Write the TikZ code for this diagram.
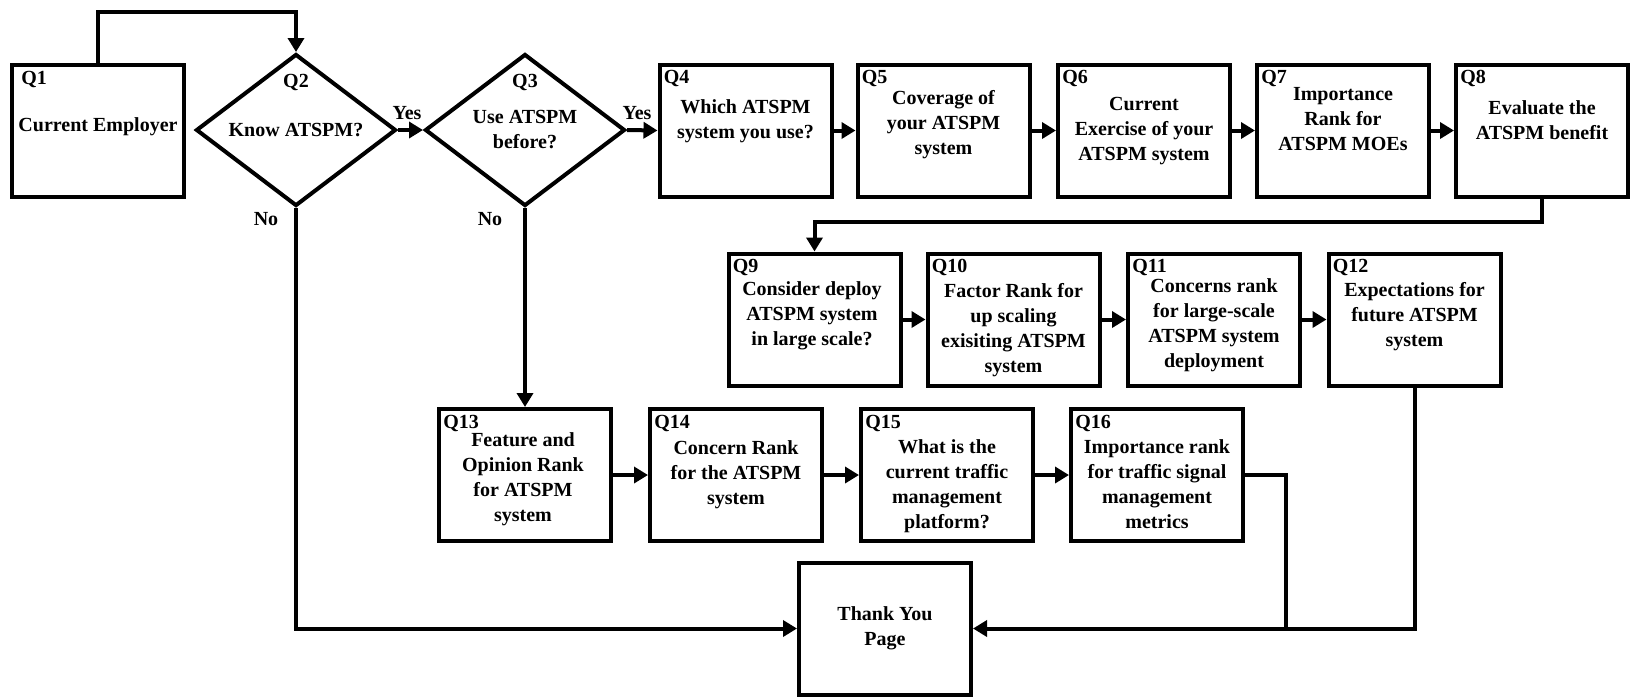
\documentclass[tikz,border=0pt]{standalone}
\usepackage{fontspec}
\setmainfont{Liberation Serif}
\usetikzlibrary{shapes.geometric,arrows.meta}
\begin{document}
\begin{tikzpicture}[x=0.5pt,y=-0.5pt,
  qbox/.style={draw,line width=2pt,minimum width=86pt,minimum height=66pt,inner sep=0pt},
  qdia/.style={draw,diamond,line width=2pt,minimum width=100pt,minimum height=76pt,inner sep=0pt},
  txt/.style={align=center,inner sep=0pt,font=\bfseries\fontsize{10}{12.5}\selectfont},
  qlab/.style={anchor=base west,inner sep=0pt,font=\bfseries\fontsize{10}{12.5}\selectfont},
  conn/.style={line width=2pt},
  arr/.style={conn,-{Triangle[length=7pt,width=8pt]}},
]
\useasboundingbox (0,0) rectangle (1631,698);

% top row
\node[qbox] (q1) at (98,130.5) {};
\node[qdia] (q2) at (296,130) {};
\node[qdia] (q3) at (525,130) {};
\node[qbox] (q4) at (745.5,130.5) {};
\node[qbox] (q5) at (943.5,130.5) {};
\node[qbox] (q6) at (1144,130.5) {};
\node[qbox] (q7) at (1343,130.5) {};
\node[qbox] (q8) at (1542,130.5) {};
% second row
\node[qbox] (q9) at (814.5,319.5) {};
\node[qbox] (q10) at (1013.5,319.5) {};
\node[qbox] (q11) at (1214,319.5) {};
\node[qbox] (q12) at (1414.5,319.5) {};
% third row
\node[qbox] (q13) at (525,475) {};
\node[qbox] (q14) at (736,475) {};
\node[qbox] (q15) at (947,475) {};
\node[qbox] (q16) at (1157,475) {};
% end
\node[qbox] (ty) at (885,628.5) {};

% Q labels
\node[qlab] (l1) at ([shift={(11,22)}]q1.north west) {Q1};
\node[txt] (l2) at (296,82) {Q2};
\node[txt] (l3) at (525,82) {Q3};
\node[qlab] (l4) at ([shift={(6,21)}]q4.north west) {Q4};
\node[qlab] (l5) at ([shift={(6,21)}]q5.north west) {Q5};
\node[qlab] (l6) at ([shift={(6,21)}]q6.north west) {Q6};
\node[qlab] (l7) at ([shift={(6,21)}]q7.north west) {Q7};
\node[qlab] (l8) at ([shift={(6,21)}]q8.north west) {Q8};
\node[qlab] (l9) at ([shift={(6,21)}]q9.north west) {Q9};
\node[qlab] (l10) at ([shift={(6,21)}]q10.north west) {Q10};
\node[qlab] (l11) at ([shift={(6,21)}]q11.north west) {Q11};
\node[qlab] (l12) at ([shift={(6,21)}]q12.north west) {Q12};
\node[qlab] (l13) at ([shift={(6,21)}]q13.north west) {Q13};
\node[qlab] (l14) at ([shift={(6,21)}]q14.north west) {Q14};
\node[qlab] (l15) at ([shift={(6,21)}]q15.north west) {Q15};
\node[qlab] (l16) at ([shift={(6,21)}]q16.north west) {Q16};

% texts
\node[txt] (t1) at (98,127) {Current Employer};
\node[txt] (t2) at (296,130) {Know ATSPM?};
\node[txt] (t3) at (525,130) {Use ATSPM\\before?};
\node[txt] (t4) at (745.5,121.5) {Which ATSPM\\system you use?};
\node[txt] (t5) at (943.5,125) {Coverage of\\your ATSPM\\system};
\node[txt] (t6) at (1144,131.5) {Current\\Exercise of your\\ATSPM system};
\node[txt] (t7) at (1343,119) {Importance\\Rank for\\ATSPM MOEs};
\node[txt] (t8) at (1542,120.5) {Evaluate the\\ATSPM benefit};
\node[txt] (t9) at (812,316) {Consider deploy\\ATSPM system\\in large scale?};
\node[txt] (t10) at (1013.5,330.5) {Factor Rank for\\up scaling\\exisiting ATSPM\\system};
\node[txt] (t11) at (1214,325.5) {Concerns rank\\for large-scale\\ATSPM system\\deployment};
\node[txt] (t12) at (1414.5,317) {Expectations for\\future ATSPM\\system};
\node[txt] (t13) at (523,479.5) {Feature and\\Opinion Rank\\for ATSPM\\system};
\node[txt] (t14) at (736,475) {Concern Rank\\for the ATSPM\\system};
\node[txt] (t15) at (947,486) {What is the\\current traffic\\management\\platform?};
\node[txt] (t16) at (1157,484.5) {Importance rank\\for traffic signal\\management\\metrics};
\node[txt] (tty) at (885,628.5) {Thank You\\Page};

% branch labels
\node[txt] (yes1) at (407,113) {Yes};
\node[txt] (yes2) at (637,113) {Yes};
\node[txt] (no1) at (266,219) {No};
\node[txt] (no2) at (490,219) {No};

% connectors
\coordinate (top) at (296,12);
\draw[arr] (q1.north) |- (top) -- (q2.north);
\draw[arr] (q2.east) -- (q3.west);
\draw[arr] (q3.east) -- (q4.west);
\draw[arr] (q4.east) -- (q5.west);
\draw[arr] (q5.east) -- (q6.west);
\draw[arr] (q6.east) -- (q7.west);
\draw[arr] (q7.east) -- (q8.west);
\coordinate (c8) at (1180,222);
\draw[arr] (q8.south) |- (c8) -| (q9.north);
\draw[arr] (q9.east) -- (q10.west);
\draw[arr] (q10.east) -- (q11.west);
\draw[arr] (q11.east) -- (q12.west);
\draw[arr] (q3.south) -- (q13.north);
\draw[arr] (q13.east) -- (q14.west);
\draw[arr] (q14.east) -- (q15.west);
\draw[arr] (q15.east) -- (q16.west);
\draw[arr] (q2.south) |- (ty.west);
\draw[arr] (q12.south) |- (ty.east);
\coordinate (j16) at (1286,628.5);
\draw[conn] (q16.east) -| (j16);
\end{tikzpicture}
\end{document}
